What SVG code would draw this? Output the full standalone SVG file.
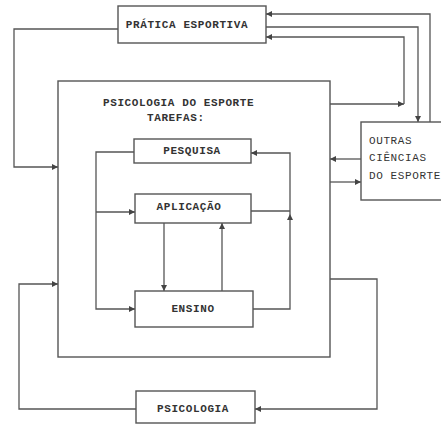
<svg xmlns="http://www.w3.org/2000/svg" width="441" height="424" viewBox="0 0 441 424">
<style>
  .box { fill: #fff; stroke: #555; stroke-width: 1.4; }
  .ln { fill: none; stroke: #555; stroke-width: 1.3; }
  .t { font-family: "Liberation Mono", "DejaVu Sans Mono", monospace; font-size: 11px; letter-spacing: 0.6px; fill: #333; }
  .c { text-anchor: middle; dominant-baseline: central; }
  .b { font-weight: bold; }
</style>
<defs>
  <marker id="ah" viewBox="0 0 10 10" refX="10" refY="5" markerWidth="6" markerHeight="6" markerUnits="userSpaceOnUse" orient="auto">
    <path d="M0,0 L10,5 L0,10 z" fill="#444"/>
  </marker>
</defs>
<rect width="441" height="424" fill="#fff"/>

<g id="connectors">
  <path class="ln" d="M118,29 H14 V167 H58" marker-end="url(#ah)"/>
  <path class="ln" d="M430,122 V14 H266" marker-end="url(#ah)"/>
  <path class="ln" d="M266,27 H418 V122" marker-end="url(#ah)"/>
  <path class="ln" d="M330,104 H404" marker-end="url(#ah)"/>
  <path class="ln" d="M404,104 V37 H266" marker-end="url(#ah)"/>
  <path class="ln" d="M361,159 H330" marker-end="url(#ah)"/>
  <path class="ln" d="M330,182 H361" marker-end="url(#ah)"/>
  <path class="ln" d="M330,279 H377 V409 H255" marker-end="url(#ah)"/>
  <path class="ln" d="M136,409 H19 V284 H58" marker-end="url(#ah)"/>
  <path class="ln" d="M134,152 H96 V309 H135" marker-end="url(#ah)"/>
  <path class="ln" d="M96,212 H135" marker-end="url(#ah)"/>
  <path class="ln" d="M253,309 H290 V153 H251" marker-end="url(#ah)"/>
  <path class="ln" d="M251,211 H290"/>
  <path d="M287,220 L290,214 L293,220 z" fill="#444"/>
  <path class="ln" d="M164,223 V291" marker-end="url(#ah)"/>
  <path class="ln" d="M222,291 V223" marker-end="url(#ah)"/>
</g>

<g id="pratica">
  <rect class="box" x="118" y="6" width="148" height="37"/>
  <text class="t c b" x="187" y="25">PRÁTICA ESPORTIVA</text>
</g>

<g id="psicologia-esporte">
  <rect class="box" x="58" y="81" width="272" height="276" fill="none" style="fill:none"/>
  <text class="t b" x="103" y="106">PSICOLOGIA DO ESPORTE</text>
  <text class="t b" x="147" y="121">TAREFAS:</text>
</g>

<g id="outras">
  <rect class="box" x="361" y="122" width="90" height="78"/>
  <text class="t" x="369" y="144">OUTRAS</text>
  <text class="t" x="369" y="161">CIÊNCIAS</text>
  <text class="t" x="369" y="179">DO ESPORTE</text>
</g>

<g id="pesquisa">
  <rect class="box" x="134" y="139" width="117" height="24"/>
  <text class="t c b" x="192" y="151">PESQUISA</text>
</g>

<g id="aplicacao">
  <rect class="box" x="135" y="194" width="116" height="29"/>
  <text class="t c b" x="189" y="207">APLICAÇÃO</text>
</g>

<g id="ensino">
  <rect class="box" x="135" y="291" width="118" height="36"/>
  <text class="t c b" x="193" y="309">ENSINO</text>
</g>

<g id="psicologia">
  <rect class="box" x="136" y="391" width="119" height="32"/>
  <text class="t c b" x="193" y="409">PSICOLOGIA</text>
</g>
</svg>
